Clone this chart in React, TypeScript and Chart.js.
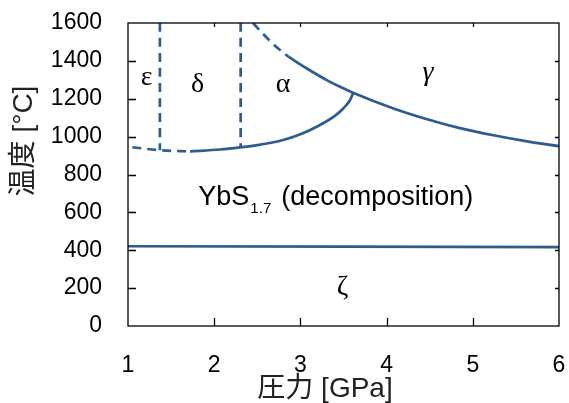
import React, { useEffect, useRef } from 'react';
import { Chart, registerables } from 'chart.js';

Chart.register(...registerables);

// ---- data (pressure in GPa, temperature in °C) ----
const xTickValues = [1, 2, 3, 4, 5, 6];
const xTickLabels = ['1', '2', '3', '4', '5', '6'];
const yTickValues = [0, 200, 400, 600, 800, 1000, 1200, 1400, 1600];
const yTickLabels = ['0', '200', '400', '600', '800', '1000', '1200', '1400', '1600'];

const zetaP = [1, 6];
const zetaT = [421, 417];

const gammaDashP = [2.45, 2.67, 2.86];
const gammaDashT = [1600, 1495, 1422];

const gammaP = [2.86, 3.07, 3.3, 3.46, 3.61, 4.08, 4.47, 4.85, 5.24, 5.63, 6.0];
const gammaT = [1422, 1361, 1300, 1263, 1232, 1149, 1092, 1045, 1007, 975, 950];

const lowDashP = [1.05, 1.37, 1.72];
const lowDashT = [944, 928, 922];

const alphaLowP = [1.72, 2.07, 2.3, 2.5, 2.8, 3.0, 3.2, 3.4, 3.5, 3.575, 3.614];
const alphaLowT = [922, 932, 943, 955, 982, 1012, 1055, 1110, 1150, 1192, 1232];

const epsDeltaP = [1.37, 1.37];
const epsDeltaT = [1600, 928];

const deltaAlphaP = [2.307, 2.307];
const deltaAlphaT = [1600, 944];

// phase labels
const phaseLabels = ['ε', 'δ', 'α', 'γ', 'ζ'];
const phaseLabelP = [1.217, 1.806, 2.8, 4.48, 3.49];
const phaseLabelT = [1272, 1237, 1237, 1300, 164];

const xTitle = '圧力 [GPa]';
const yTitle = '温度 [°C]';

const COLOR = '#2e5c8e';
const SANS = "'Liberation Sans', Arial, 'Noto Sans CJK JP', sans-serif";
const SERIF = "'Liberation Serif', 'DejaVu Serif', serif";

const mk = (ps: number[], ts: number[]) => ps.map((p, i) => ({ x: p, y: ts[i] }));

const framePlugin = {
  id: 'frameAndText',
  afterDraw(chart: any) {
    const { ctx, chartArea: a } = chart;
    const xs = chart.scales.x;
    const ys = chart.scales.y;
    ctx.save();
    // frame
    ctx.strokeStyle = '#000';
    ctx.lineWidth = 1.3;
    ctx.strokeRect(a.left, a.top, a.right - a.left, a.bottom - a.top);
    // inward ticks
    ctx.beginPath();
    xTickValues.slice(1, -1).forEach((v) => {
      const px = Math.round(xs.getPixelForValue(v)) + 0.5;
      ctx.moveTo(px, a.bottom);
      ctx.lineTo(px, a.bottom - 8);
      ctx.moveTo(px, a.top);
      ctx.lineTo(px, a.top + 4);
    });
    yTickValues.slice(1, -1).forEach((v) => {
      const py = Math.round(ys.getPixelForValue(v)) + 0.5;
      ctx.moveTo(a.left, py);
      ctx.lineTo(a.left + 8, py);
      ctx.moveTo(a.right, py);
      ctx.lineTo(a.right - 4, py);
    });
    ctx.stroke();

    // phase labels
    ctx.fillStyle = '#000';
    ctx.textAlign = 'center';
    ctx.textBaseline = 'alphabetic';
    phaseLabels.forEach((t, i) => {
      ctx.font = (t === 'γ' ? 'italic ' : '') + '28px ' + SERIF;
      ctx.fillText(t, xs.getPixelForValue(phaseLabelP[i]), ys.getPixelForValue(phaseLabelT[i]));
    });

    // YbS1.7 (decomposition)
    let x0 = xs.getPixelForValue(1.816);
    const yb = ys.getPixelForValue(639);
    ctx.textAlign = 'left';
    ctx.font = '27px ' + SANS;
    ctx.fillText('YbS', x0, yb);
    x0 += ctx.measureText('YbS').width + 1;
    ctx.font = '15px ' + SANS;
    ctx.fillText('1.7', x0, yb + 8);
    x0 += ctx.measureText('1.7').width + 10;
    ctx.font = '27px ' + SANS;
    ctx.fillText('(decomposition)', x0, yb);

    // axis titles
    ctx.fillStyle = '#222';
    ctx.font = '28px ' + SANS;
    ctx.textAlign = 'center';
    ctx.textBaseline = 'middle';
    ctx.fillText(xTitle, 325, 389);
    ctx.translate(24, 141);
    ctx.rotate(-Math.PI / 2);
    ctx.fillText(yTitle, 0, 0);
    ctx.restore();
  },
};

const zeroPad = (s: any) => {
  s.paddingLeft = 0;
  s.paddingRight = 0;
  s.paddingTop = 0;
  s.paddingBottom = 0;
};

export default function App() {
  const ref = useRef<HTMLCanvasElement>(null);
  useEffect(() => {
    const canvas = ref.current;
    if (!canvas) return;
    const solid = {
      borderColor: COLOR,
      backgroundColor: COLOR,
      borderWidth: 2.7,
      pointRadius: 0,
      showLine: true,
      fill: false,
      cubicInterpolationMode: 'monotone',
    };
    const dashed = { ...solid, borderDash: [9, 6] };
    const chart = new Chart(canvas, {
      type: 'scatter',
      data: {
        datasets: [
          { ...solid, data: mk(zetaP, zetaT) },
          { ...solid, data: mk(gammaP, gammaT) },
          { ...dashed, data: mk(gammaDashP, gammaDashT) },
          { ...dashed, data: mk(lowDashP, lowDashT) },
          { ...solid, data: mk(alphaLowP, alphaLowT) },
          { ...dashed, data: mk(epsDeltaP, epsDeltaT) },
          { ...dashed, data: mk(deltaAlphaP, deltaAlphaT) },
        ] as any,
      },
      options: {
        responsive: false,
        animation: false,
        layout: { padding: { top: 23, right: 10, left: 0, bottom: 0 } },
        plugins: { legend: { display: false }, tooltip: { enabled: false } },
        scales: {
          x: {
            type: 'linear',
            min: 1,
            max: 6,
            grid: { display: false, drawTicks: false },
            border: { display: false },
            afterBuildTicks: (s: any) => {
              s.ticks = xTickValues.map((v) => ({ value: v }));
            },
            ticks: {
              autoSkip: false,
              maxRotation: 0,
              color: '#000',
              padding: 26,
              font: { family: SANS, size: 23 },
              callback: (_v: any, i: number) => xTickLabels[i],
            },
            afterFit: (s: any) => {
              s.height = 77;
              zeroPad(s);
            },
          },
          y: {
            type: 'linear',
            min: 0,
            max: 1600,
            grid: { display: false, drawTicks: false },
            border: { display: false },
            afterBuildTicks: (s: any) => {
              s.ticks = yTickValues.map((v) => ({ value: v }));
            },
            ticks: {
              autoSkip: false,
              color: '#000',
              padding: 26,
              font: { family: SANS, size: 23 },
              callback: (_v: any, i: number) => yTickLabels[i],
            },
            afterFit: (s: any) => {
              s.width = 128;
              zeroPad(s);
            },
          },
        },
      } as any,
      plugins: [framePlugin],
    });
    return () => chart.destroy();
  }, []);
  return (
    <div style={{ position: 'absolute', left: 0, top: 0, width: 569, height: 403, background: '#fff' }}>
      <canvas ref={ref} width={569} height={403} style={{ display: 'block' }} />
    </div>
  );
}
